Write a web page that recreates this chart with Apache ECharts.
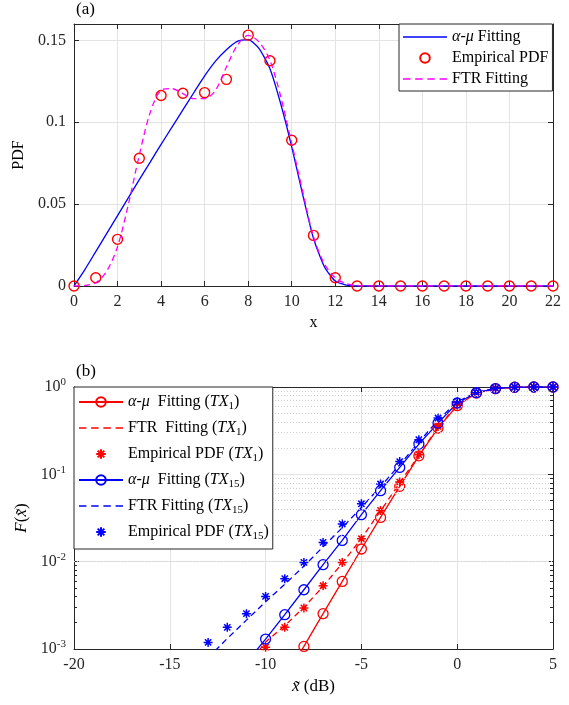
<!DOCTYPE html>
<html><head><meta charset="utf-8">
<script src="https://cdn.jsdelivr.net/npm/echarts@6/dist/echarts.min.js"></script>
<style>html,body{margin:0;padding:0;background:#fff}#c{width:569px;height:705px}</style>
</head><body><div id="c"></div>
<script>
// ---------- Panel (a) data ----------
const empX = [0,1,2,3,4,5,6,7,8,9,10,11,12,13,14,15,16,17,18,19,20,21,22];
const empPdf = [0,0.005,0.0285,0.078,0.1163,0.1177,0.1181,0.1262,0.1532,0.1376,0.089,0.0309,0.005,0,0,0,0,0,0,0,0,0,0];
const fitX = [0,0.5,1,1.5,2,2.5,3,3.5,4,4.5,5,5.5,6,6.5,7,7.5,8,8.5,9,9.5,10,10.5,11,11.5,12,12.5,13,14,16,18,20,22];
const alphaMuPdf = [0,0.010,0.021,0.032,0.043,0.054,0.065,0.0757,0.0865,0.097,0.1075,0.118,0.1283,0.1373,0.1443,0.1494,0.1504,0.145,0.1327,0.111,0.085,0.056,0.029,0.0118,0.003,0.0006,0,0,0,0,0,0];
const ftrPdf = [0,0.0003,0.002,0.009,0.024,0.05,0.08,0.106,0.1195,0.1205,0.1175,0.1144,0.1144,0.1195,0.1337,0.147,0.153,0.149,0.1378,0.1154,0.087,0.058,0.030,0.0135,0.005,0.0015,0.0003,0,0,0,0,0];

// ---------- Panel (b) data ----------
const amTx1X = [-9,-8,-7,-6,-5,-4,-3,-2,-1,0,1,2,3,4,5];
const amTx1 = [4.6e-4,1.07e-3,2.54e-3,5.94e-3,0.01396,0.0321,0.0728,0.163,0.339,0.611,0.853,0.957,0.994,1,1];
const ftrTx1X = [-11,-10,-9,-8,-7,-6,-5,-4,-3,-2,-1,0,1,2,3,4,5];
const ftrTx1 = [6.3e-4,1.2e-3,1.85e-3,3.0e-3,5.2e-3,9.6e-3,0.0185,0.038,0.08,0.165,0.35,0.62,0.86,0.96,0.995,1,1];
const empTx1X = [-10,-9,-8,-7,-6,-5,-4,-3,-2,-1,0,1,2,3,4,5];
const empTx1 = [1.05e-3,1.77e-3,2.95e-3,5.3e-3,9.8e-3,0.0183,0.0386,0.0817,0.168,0.354,0.62,0.86,0.96,0.995,1,1];
const amTx15X = [-11,-10,-9,-8,-7,-6,-5,-4,-3,-2,-1,0,1,2,3,4,5];
const amTx15 = [7e-4,1.30e-3,2.47e-3,4.77e-3,9.23e-3,0.0175,0.0345,0.065,0.120,0.222,0.386,0.656,0.86,0.96,0.995,1,1];
const ftrTx15X = [-13,-12,-11,-10,-9,-8,-7,-6,-5,-4,-3,-2,-1,0,1,2,3,4,5];
const ftrTx15 = [7.9e-4,1.32e-3,2.14e-3,3.47e-3,5.5e-3,8.9e-3,0.0148,0.0245,0.0417,0.0724,0.129,0.234,0.417,0.676,0.87,0.965,0.995,1,1];
const empTx15X = [-13,-12,-11,-10,-9,-8,-7,-6,-5,-4,-3,-2,-1,0,1,2,3,4,5];
const empTx15 = [1.19e-3,1.77e-3,2.54e-3,4.0e-3,6.38e-3,9.8e-3,0.0166,0.027,0.046,0.0775,0.14,0.249,0.441,0.673,0.87,0.965,0.995,1,1];
const minorLogTicks = [0.002,0.003,0.004,0.005,0.006,0.007,0.008,0.009,0.02,0.03,0.04,0.05,0.06,0.07,0.08,0.09,0.2,0.3,0.4,0.5,0.6,0.7,0.8,0.9];
const xRangeB = [-20, 5];

const FF = '"Liberation Serif","Times New Roman",serif';
const TXT = '#262626';
const RED = '#ff0000', BLUE = '#0000ff', MAG = '#ff00ff';
const STAR = 'path://M5,0L5,10M0,5L10,5M1.5,1.5L8.5,8.5M1.5,8.5L8.5,1.5';
const SOLID_ICON = 'path://M0,0H44V1.4H0Z';
const DASH_ICON = 'path://M0,0h7v1.4h-7zM11.5,0h7v1.4h-7zM23,0h7v1.4h-7zM34.5,0h7v1.4h-7z';
const zip = (xs, ys) => xs.map((x, i) => [x, ys[i]]);

const richBase = {
  i: {fontStyle: 'italic', fontSize: 16, fontFamily: FF, color: '#000'},
  n: {fontSize: 16, fontFamily: FF, color: '#000'},
  sub: {fontSize: 11, fontFamily: FF, color: '#000', verticalAlign: 'bottom', padding: [9, 0, 0, 0]}
};
const legendLabels = {
  'am': '{i|α}{n|-}{i|μ}{n| Fitting}',
  'emp': '{n|Empirical PDF}',
  'ftr': '{n|FTR Fitting}',
  'am1': '{i|α}{n|-}{i|μ}{n|  Fitting (}{i|TX}{sub|1}{n|)}',
  'ftr1': '{n|FTR  Fitting (}{i|TX}{sub|1}{n|)}',
  'emp1': '{n|Empirical PDF (}{i|TX}{sub|1}{n|)}',
  'am15': '{i|α}{n|-}{i|μ}{n|  Fitting (}{i|TX}{sub|15}{n|)}',
  'ftr15': '{n|FTR Fitting (}{i|TX}{sub|15}{n|)}',
  'emp15': '{n|Empirical PDF (}{i|TX}{sub|15}{n|)}'
};

const axisLineStyle = {show: true, onZero: false, lineStyle: {color: TXT, width: 1}};
const tick = {show: true, inside: true, length: 5, lineStyle: {color: TXT}};
const lbl = {color: TXT, fontFamily: FF, fontSize: 16, margin: 8};
const grid = {show: true, lineStyle: {color: '#e3e3e3', width: 1}};

function lineSeries(name, xi, yi, data, color, opts) {
  return Object.assign({
    name, type: 'line', xAxisIndex: xi, yAxisIndex: yi, data,
    showSymbol: false, symbol: 'none', silent: true, animation: false,
    lineStyle: {color, width: 1.3},
    itemStyle: {color}
  }, opts || {});
}

// minor tick marks (inward) on the left and right edges of the log axis
const tickLen = (xRangeB[1] - xRangeB[0]) * 3 / 479;
const minorTickData = [];
minorLogTicks.forEach(v => {
  minorTickData.push([{coord: [xRangeB[0], v]}, {coord: [xRangeB[0] + tickLen, v]}]);
  minorTickData.push([{coord: [xRangeB[1] - tickLen, v]}, {coord: [xRangeB[1], v]}]);
});

const option = {
  animation: false,
  backgroundColor: '#fff',
  textStyle: {fontFamily: FF},
  grid: [
    {left: 74, top: 24, width: 479, height: 262},
    {left: 74, top: 387, width: 479, height: 262}
  ],
  xAxis: [
    {type: 'value', gridIndex: 0, min: 0, max: 22, interval: 2, axisLine: axisLineStyle, axisTick: tick,
     axisLabel: lbl, splitLine: grid, name: 'x', nameLocation: 'middle', nameGap: 29,
     nameTextStyle: {fontFamily: FF, fontSize: 16, color: '#000'}},
    {type: 'value', gridIndex: 0, position: 'top', min: 0, max: 22, interval: 2, axisLine: axisLineStyle,
     axisTick: tick, axisLabel: {show: false}, splitLine: {show: false}},
    {type: 'value', gridIndex: 1, min: xRangeB[0], max: xRangeB[1], interval: 5, axisLine: axisLineStyle, axisTick: tick,
     axisLabel: lbl, splitLine: grid, name: '{i|x̃}{n| (dB)}', nameLocation: 'middle', nameGap: 29,
     nameTextStyle: {fontFamily: FF, fontSize: 17, color: '#000', rich: {
       i: {fontStyle: 'italic', fontFamily: FF, fontSize: 17, color: '#000'},
       n: {fontFamily: FF, fontSize: 17, color: '#000'}}}},
    {type: 'value', gridIndex: 1, position: 'top', min: xRangeB[0], max: xRangeB[1], interval: 5, axisLine: axisLineStyle,
     axisTick: tick, axisLabel: {show: false}, splitLine: {show: false}}
  ],
  yAxis: [
    {type: 'value', gridIndex: 0, min: 0, max: 0.16, interval: 0.05, axisLine: axisLineStyle, axisTick: tick,
     axisLabel: Object.assign({}, lbl, {showMaxLabel: false}), splitLine: grid,
     name: 'PDF', nameLocation: 'middle', nameGap: 35, nameTextStyle: {fontFamily: FF, fontSize: 16, color: '#000'}},
    {type: 'value', gridIndex: 0, position: 'right', min: 0, max: 0.16, interval: 0.05, axisLine: axisLineStyle,
     axisTick: tick, axisLabel: {show: false}, splitLine: {show: false}},
    {type: 'log', logBase: 10, gridIndex: 1, min: 0.001, max: 1, axisLine: axisLineStyle, axisTick: tick,
     axisLabel: Object.assign({}, lbl, {
       formatter: v => '{b|10}{s|' + Math.round(Math.log10(v)) + '}',
       rich: {b: {fontSize: 16, fontFamily: FF, color: TXT},
              s: {fontSize: 11, fontFamily: FF, color: TXT, verticalAlign: 'top', padding: [0, 0, 9, 0]}}
     }), splitLine: grid,
     name: '{i|F}{n|(}{i|x̃}{n|)}', nameLocation: 'middle', nameGap: 40,
     nameTextStyle: {fontFamily: FF, fontSize: 17, color: '#000', rich: {
       i: {fontStyle: 'italic', fontFamily: FF, fontSize: 17, color: '#000'},
       n: {fontFamily: FF, fontSize: 17, color: '#000'}}}},
    {type: 'log', logBase: 10, gridIndex: 1, position: 'right', min: 0.001, max: 1, axisLine: axisLineStyle,
     axisTick: tick, axisLabel: {show: false}, splitLine: {show: false}}
  ],
  legend: [
    {data: [{name: 'am', icon: SOLID_ICON}, {name: 'emp'}, {name: 'ftr', icon: DASH_ICON}],
     orient: 'vertical', left: 399, top: 24, itemWidth: 44, itemHeight: 12, itemGap: 5,
     padding: [5, 4, 4, 4], backgroundColor: '#fff', borderColor: TXT, borderWidth: 1, borderRadius: 0,
     formatter: n => legendLabels[n], textStyle: {fontFamily: FF, fontSize: 16, color: '#000', rich: richBase},
     selectedMode: false, z: 10},
    {data: [{name: 'am1'}, {name: 'ftr1', icon: DASH_ICON}, {name: 'emp1'}, {name: 'am15'},
            {name: 'ftr15', icon: DASH_ICON}, {name: 'emp15'}],
     orient: 'vertical', left: 74, top: 387, itemWidth: 44,
     itemHeight: 12, itemGap: 8, padding: [7, 4, 7, 4], backgroundColor: '#fff', borderColor: TXT, borderWidth: 1,
     borderRadius: 0, formatter: n => legendLabels[n], textStyle: {fontFamily: FF, fontSize: 16, color: '#000', rich: richBase},
     selectedMode: false, z: 10}
  ],
  graphic: [
    {type: 'text', left: 76, top: 1, style: {text: '(a)', font: '17px ' + FF, fill: '#000'}},
    {type: 'text', left: 76, top: 363, style: {text: '(b)', font: '17px ' + FF, fill: '#000'}}
  ],
  series: [
    lineSeries('am', 0, 0, zip(fitX, alphaMuPdf), BLUE, {z: 3, smooth: 0.2}),
    lineSeries('emp', 0, 0, zip(empX, empPdf), RED, {
      showSymbol: true, symbol: 'circle', symbolSize: 10, z: 4,
      lineStyle: {width: 0, opacity: 0, color: RED},
      itemStyle: {color: 'rgba(255,255,255,0)', borderColor: RED, borderWidth: 1.4}
    }),
    lineSeries('ftr', 0, 0, zip(fitX, ftrPdf), MAG, {z: 5, smooth: 0.3, lineStyle: {color: MAG, width: 1.3, type: [6, 4]}}),

    lineSeries('am1', 2, 2, zip(amTx1X, amTx1), RED, {
      showSymbol: true, symbol: 'circle', symbolSize: 10,
      itemStyle: {color: 'rgba(255,255,255,0)', borderColor: RED, borderWidth: 1.3},
      markLine: {silent: true, symbol: ['none', 'none'], label: {show: false}, animation: false,
        lineStyle: {color: '#cfcfcf', type: [1, 2], width: 1},
        data: minorLogTicks.map(v => ({yAxis: v}))}
    }),
    lineSeries('ftr1', 2, 2, zip(ftrTx1X, ftrTx1), RED, {
      lineStyle: {color: RED, width: 1.3, type: [6, 4]},
      markLine: {silent: true, symbol: ['none', 'none'], label: {show: false}, animation: false,
        lineStyle: {color: TXT, type: 'solid', width: 1}, data: minorTickData}
    }),
    lineSeries('emp1', 2, 2, zip(empTx1X, empTx1), RED, {
      showSymbol: true, symbol: STAR, symbolSize: 9,
      lineStyle: {width: 0, opacity: 0, color: RED},
      itemStyle: {color: 'rgba(255,255,255,0)', borderColor: RED, borderWidth: 1.5}
    }),
    lineSeries('am15', 2, 2, zip(amTx15X, amTx15), BLUE, {
      showSymbol: true, symbol: 'circle', symbolSize: 10,
      itemStyle: {color: 'rgba(255,255,255,0)', borderColor: BLUE, borderWidth: 1.3}
    }),
    lineSeries('ftr15', 2, 2, zip(ftrTx15X, ftrTx15), BLUE, {lineStyle: {color: BLUE, width: 1.3, type: [6, 4]}}),
    lineSeries('emp15', 2, 2, zip(empTx15X, empTx15), BLUE, {
      showSymbol: true, symbol: STAR, symbolSize: 9,
      lineStyle: {width: 0, opacity: 0, color: BLUE},
      itemStyle: {color: 'rgba(255,255,255,0)', borderColor: BLUE, borderWidth: 1.5}
    })
  ]
};
const chart = echarts.init(document.getElementById('c'), null, {renderer: 'canvas'});
chart.setOption(option);
</script></body></html>
